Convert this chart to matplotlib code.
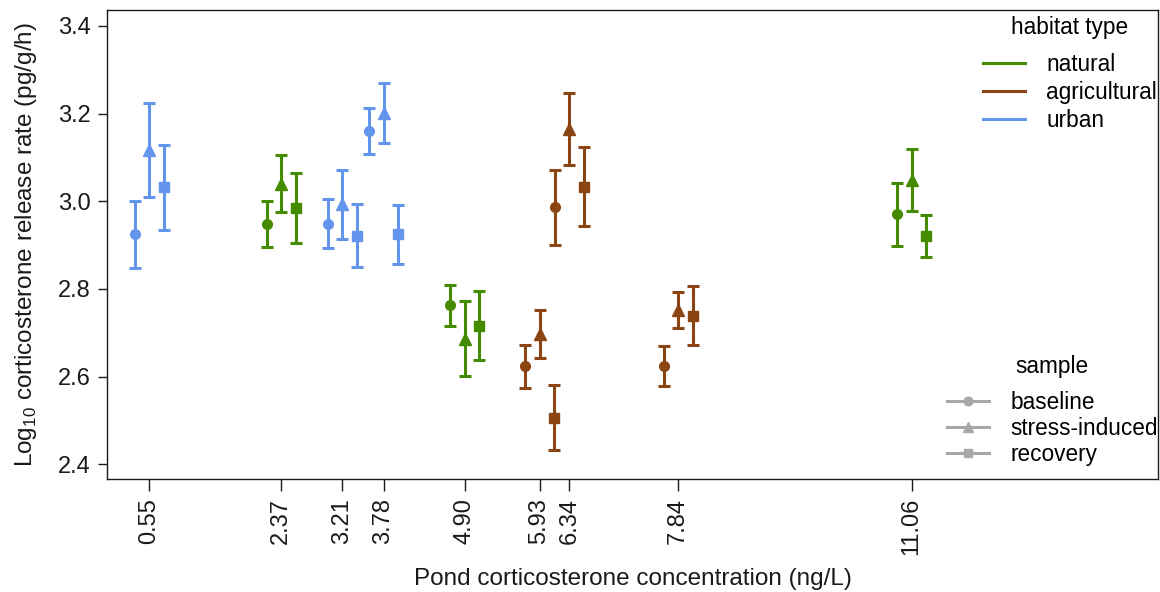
import numpy as np
import matplotlib
matplotlib.use("Agg")
import matplotlib.pyplot as plt
from matplotlib.lines import Line2D

plt.rcParams["font.family"] = ["Liberation Sans", "DejaVu Sans"]
plt.rcParams["mathtext.fontset"] = "custom"
plt.rcParams["mathtext.rm"] = "Liberation Sans"

# pond corticosterone concentration (ng/L) and habitat of each pond
ponds = [0.55, 2.37, 3.21, 3.78, 4.90, 5.93, 6.34, 7.84, 11.06]
habitat = ["urban", "natural", "urban", "urban", "natural",
           "agricultural", "agricultural", "agricultural", "natural"]

# log10 release rate (mean) and half-width of error bars per sample
baseline_mean = [2.925, 2.948, 2.949, 3.161, 2.763, 2.624, 2.986, 2.624, 2.970]
baseline_err = [0.076, 0.052, 0.056, 0.053, 0.047, 0.049, 0.085, 0.045, 0.072]
stress_mean = [3.117, 3.040, 2.993, 3.202, 2.687, 2.697, 3.165, 2.752, 3.049]
stress_err = [0.107, 0.065, 0.078, 0.068, 0.085, 0.054, 0.081, 0.040, 0.070]
recovery_mean = [3.032, 2.985, 2.922, 2.925, 2.716, 2.506, 3.033, 2.739, 2.921]
recovery_err = [0.097, 0.080, 0.072, 0.067, 0.079, 0.074, 0.090, 0.067, 0.047]

habitat_names = ["natural", "agricultural", "urban"]
sample_names = ["baseline", "stress-induced", "recovery"]

COLORS = {"natural": "#458b00", "agricultural": "#8b4513", "urban": "#6495ed"}
MARKERS = {"baseline": ("o", 7.0), "stress-induced": ("^", 8.0), "recovery": ("s", 6.5)}
OFFSETS = {"baseline": -0.2, "stress-induced": 0.0, "recovery": 0.2}
LEGEND_GRAY = "#a8a8a8"
TEXT = "#1a1a1a"
FS = 17.5      # axis labels
TICK_FS = 17.0
LEG_FS = 16.3  # legend text

fig = plt.figure(figsize=(11.6, 5.92), dpi=100)
ax = fig.add_axes([107 / 1160, 1 - 479 / 592, (1158 - 107) / 1160, (479 - 10) / 592])

samples = {
    "baseline": (baseline_mean, baseline_err),
    "stress-induced": (stress_mean, stress_err),
    "recovery": (recovery_mean, recovery_err),
}

x = np.array(ponds)
for name, (means, errs) in samples.items():
    marker, ms = MARKERS[name]
    for i, hab in enumerate(habitat):
        ax.errorbar(x[i] + OFFSETS[name], means[i], yerr=errs[i],
                    fmt=marker, ms=ms, color=COLORS[hab], mec=COLORS[hab],
                    elinewidth=2.2, capsize=4.0, capthick=2.2)

ax.set_xlim(-0.033, 14.457)
ax.set_ylim(2.3665, 3.4365)
ax.set_xticks(ponds)
ax.set_xticklabels([f"{p:.2f}" for p in ponds], rotation=90)
ax.set_yticks([2.4, 2.6, 2.8, 3.0, 3.2, 3.4])
ax.set_yticklabels(["2.4", "2.6", "2.8", "3.0", "3.2", "3.4"])
ax.tick_params(axis="x", length=8.5, width=1.0, pad=5, labelsize=TICK_FS, colors=TEXT)
ax.tick_params(axis="y", length=6.5, width=1.0, pad=5, labelsize=TICK_FS, colors=TEXT)
for spine in ax.spines.values():
    spine.set_linewidth(1.0)
    spine.set_color(TEXT)

ax.set_xlabel("Pond corticosterone concentration (ng/L)", fontsize=FS, color=TEXT, labelpad=9)
ax.set_ylabel(r"Log$_{10}$ corticosterone release rate (pg/g/h)", fontsize=FS, color=TEXT, labelpad=14)

legend_kw = dict(loc="upper left", frameon=False, fontsize=LEG_FS, title_fontsize=LEG_FS,
                 handlelength=1.86, handletextpad=0.93,
                 borderpad=0.0, borderaxespad=0.0)

# legend: habitat type
hab_handles = [Line2D([], [], color=COLORS[h], lw=2.2) for h in habitat_names]
leg1 = ax.legend(hab_handles, habitat_names, title="habitat type", labelspacing=0.22,
                 bbox_to_anchor=(0.8335, 0.987), **legend_kw)
leg1._legend_box.sep = 10  # extra gap under the title (points)
ax.add_artist(leg1)

# legend: sample
smp_handles = [Line2D([], [], color=LEGEND_GRAY, lw=2.2, marker=MARKERS[s][0],
                      ms=MARKERS[s][1] * 0.9) for s in sample_names]
leg2 = ax.legend(smp_handles, sample_names, title="sample", labelspacing=0.13,
                 bbox_to_anchor=(0.7992, 0.2635), **legend_kw)
leg2._legend_box.sep = 9

fig.savefig("out.png", dpi=100, facecolor="white")
plt.close(fig)
